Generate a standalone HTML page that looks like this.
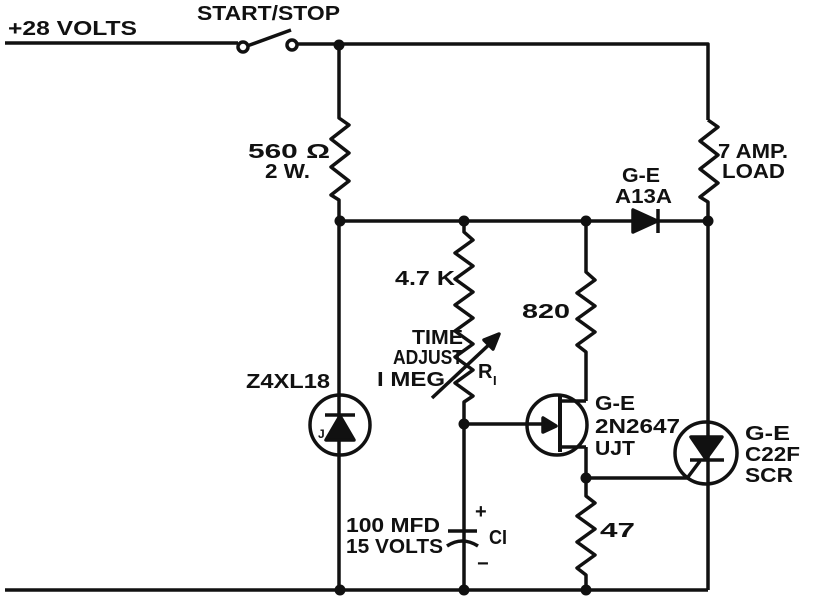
<!DOCTYPE html>
<html><head><meta charset="utf-8"><style>
html,body{margin:0;padding:0;background:#fff}
svg{display:block}
text{font-family:"Liberation Sans",sans-serif;font-weight:bold;font-size:20px;fill:#111}
</style></head><body>
<svg width="831" height="602" viewBox="0 0 831 602" xmlns="http://www.w3.org/2000/svg">
<g stroke="#111" stroke-width="3.5" fill="none" stroke-linejoin="round">
<path d="M5 43 H238 M297 44 H708 V120"/>
<circle cx="243" cy="47" r="5"/><circle cx="292" cy="45" r="5"/>
<path d="M247 46 L291 30"/>
<path d="M339 44 V118 L349 125 L331 139 L349 153 L331 167 L349 181 L331 195 L339 200 V590"/>
<path d="M708 120 L718 127 L700 141 L718 155 L700 169 L718 183 L700 197 L708 202 V590"/>
<path d="M339 221 H633 M658 221 H708"/>
<path d="M633 210 V232 L657 221 Z" fill="#111"/>
<path d="M658 209 V233"/>
<path d="M464 221 V232 L473 240 L455 253 L473 266 L455 279 L473 292 L455 305 L473 318 L455 331 L473 344 L455 357 L473 370 L455 383 L473 396 L464 402 V590"/>
<path d="M432 398 L494 340"/>
<path d="M499 334 L484 340 L493 349 Z" fill="#111"/>
<path d="M464 424 H548"/>
<path d="M556 426 L543 418 L543 432 Z" fill="#111"/>
<circle cx="557" cy="425" r="30"/>
<path d="M560 396 V452" stroke-width="4"/>
<path d="M560 401 H586 M560 447 H586"/>
<path d="M586 221 V272 L595 280 L577 293 L595 306 L577 319 L595 332 L577 345 L586 352 V401"/>
<path d="M586 447 V496 L595 503 L577 516 L595 529 L577 542 L595 555 L577 568 L586 575 V590"/>
<path d="M586 478 H690"/>
<circle cx="706" cy="453" r="31"/>
<path d="M691 437 H722 L706 459 Z" fill="#111"/>
<path d="M690 460 H724 M700 461 L688 477"/>
<circle cx="340" cy="425" r="30"/>
<path d="M326 440 H354 L340 416 Z" fill="#111"/>
<path d="M325 415 H355"/>
<path d="M448 531 H477"/>
<path d="M447 546 Q462 536 478 546"/>
<path d="M5 590 H708"/>
</g>
<g fill="#111">
<circle cx="339" cy="45" r="5.5"/>
<circle cx="340" cy="221" r="5.5"/><circle cx="464" cy="221" r="5.5"/><circle cx="586" cy="221" r="5.5"/><circle cx="708" cy="221" r="5.5"/>
<circle cx="464" cy="424" r="5.5"/><circle cx="586" cy="478" r="5.5"/>
<circle cx="340" cy="590" r="5.5"/><circle cx="464" cy="590" r="5.5"/><circle cx="586" cy="590" r="5.5"/>
</g>
<text x="8" y="35" textLength="129" lengthAdjust="spacingAndGlyphs">+28 VOLTS</text>
<text x="197" y="20" textLength="143" lengthAdjust="spacingAndGlyphs">START/STOP</text>
<text x="248" y="158" textLength="82" lengthAdjust="spacingAndGlyphs">560 Ω</text>
<text x="265" y="178" textLength="45" lengthAdjust="spacingAndGlyphs">2 W.</text>
<text x="718" y="158" textLength="70" lengthAdjust="spacingAndGlyphs">7 AMP.</text>
<text x="722" y="178" textLength="63" lengthAdjust="spacingAndGlyphs">LOAD</text>
<text x="622" y="182" textLength="38" lengthAdjust="spacingAndGlyphs">G-E</text>
<text x="615" y="203" textLength="57" lengthAdjust="spacingAndGlyphs">A13A</text>
<text x="395" y="285" textLength="60" lengthAdjust="spacingAndGlyphs">4.7 K</text>
<text x="412" y="344" textLength="51" lengthAdjust="spacingAndGlyphs">TIME</text>
<text x="393" y="364" textLength="70" lengthAdjust="spacingAndGlyphs">ADJUST</text>
<text x="377" y="386" textLength="68" lengthAdjust="spacingAndGlyphs">I MEG</text>
<text x="478" y="378">R</text><text x="493" y="385" style="font-size:13px">I</text>
<text x="246" y="388" textLength="84" lengthAdjust="spacingAndGlyphs">Z4XL18</text>
<text x="318" y="438" style="font-size:12px">J</text>
<text x="522" y="318" textLength="48" lengthAdjust="spacingAndGlyphs">820</text>
<text x="595" y="410" textLength="40" lengthAdjust="spacingAndGlyphs">G-E</text>
<text x="595" y="433" textLength="85" lengthAdjust="spacingAndGlyphs">2N2647</text>
<text x="595" y="455" textLength="40" lengthAdjust="spacingAndGlyphs">UJT</text>
<text x="745" y="440" textLength="45" lengthAdjust="spacingAndGlyphs">G-E</text>
<text x="745" y="461" textLength="55" lengthAdjust="spacingAndGlyphs">C22F</text>
<text x="745" y="482" textLength="48" lengthAdjust="spacingAndGlyphs">SCR</text>
<text x="600" y="537" textLength="35" lengthAdjust="spacingAndGlyphs">47</text>
<text x="346" y="532" textLength="94" lengthAdjust="spacingAndGlyphs">100 MFD</text>
<text x="346" y="553" textLength="97" lengthAdjust="spacingAndGlyphs">15 VOLTS</text>
<text x="475" y="518">+</text>
<text x="489" y="544" textLength="18" lengthAdjust="spacingAndGlyphs">CI</text>
<text x="477" y="570">−</text>
</svg>
</body></html>
